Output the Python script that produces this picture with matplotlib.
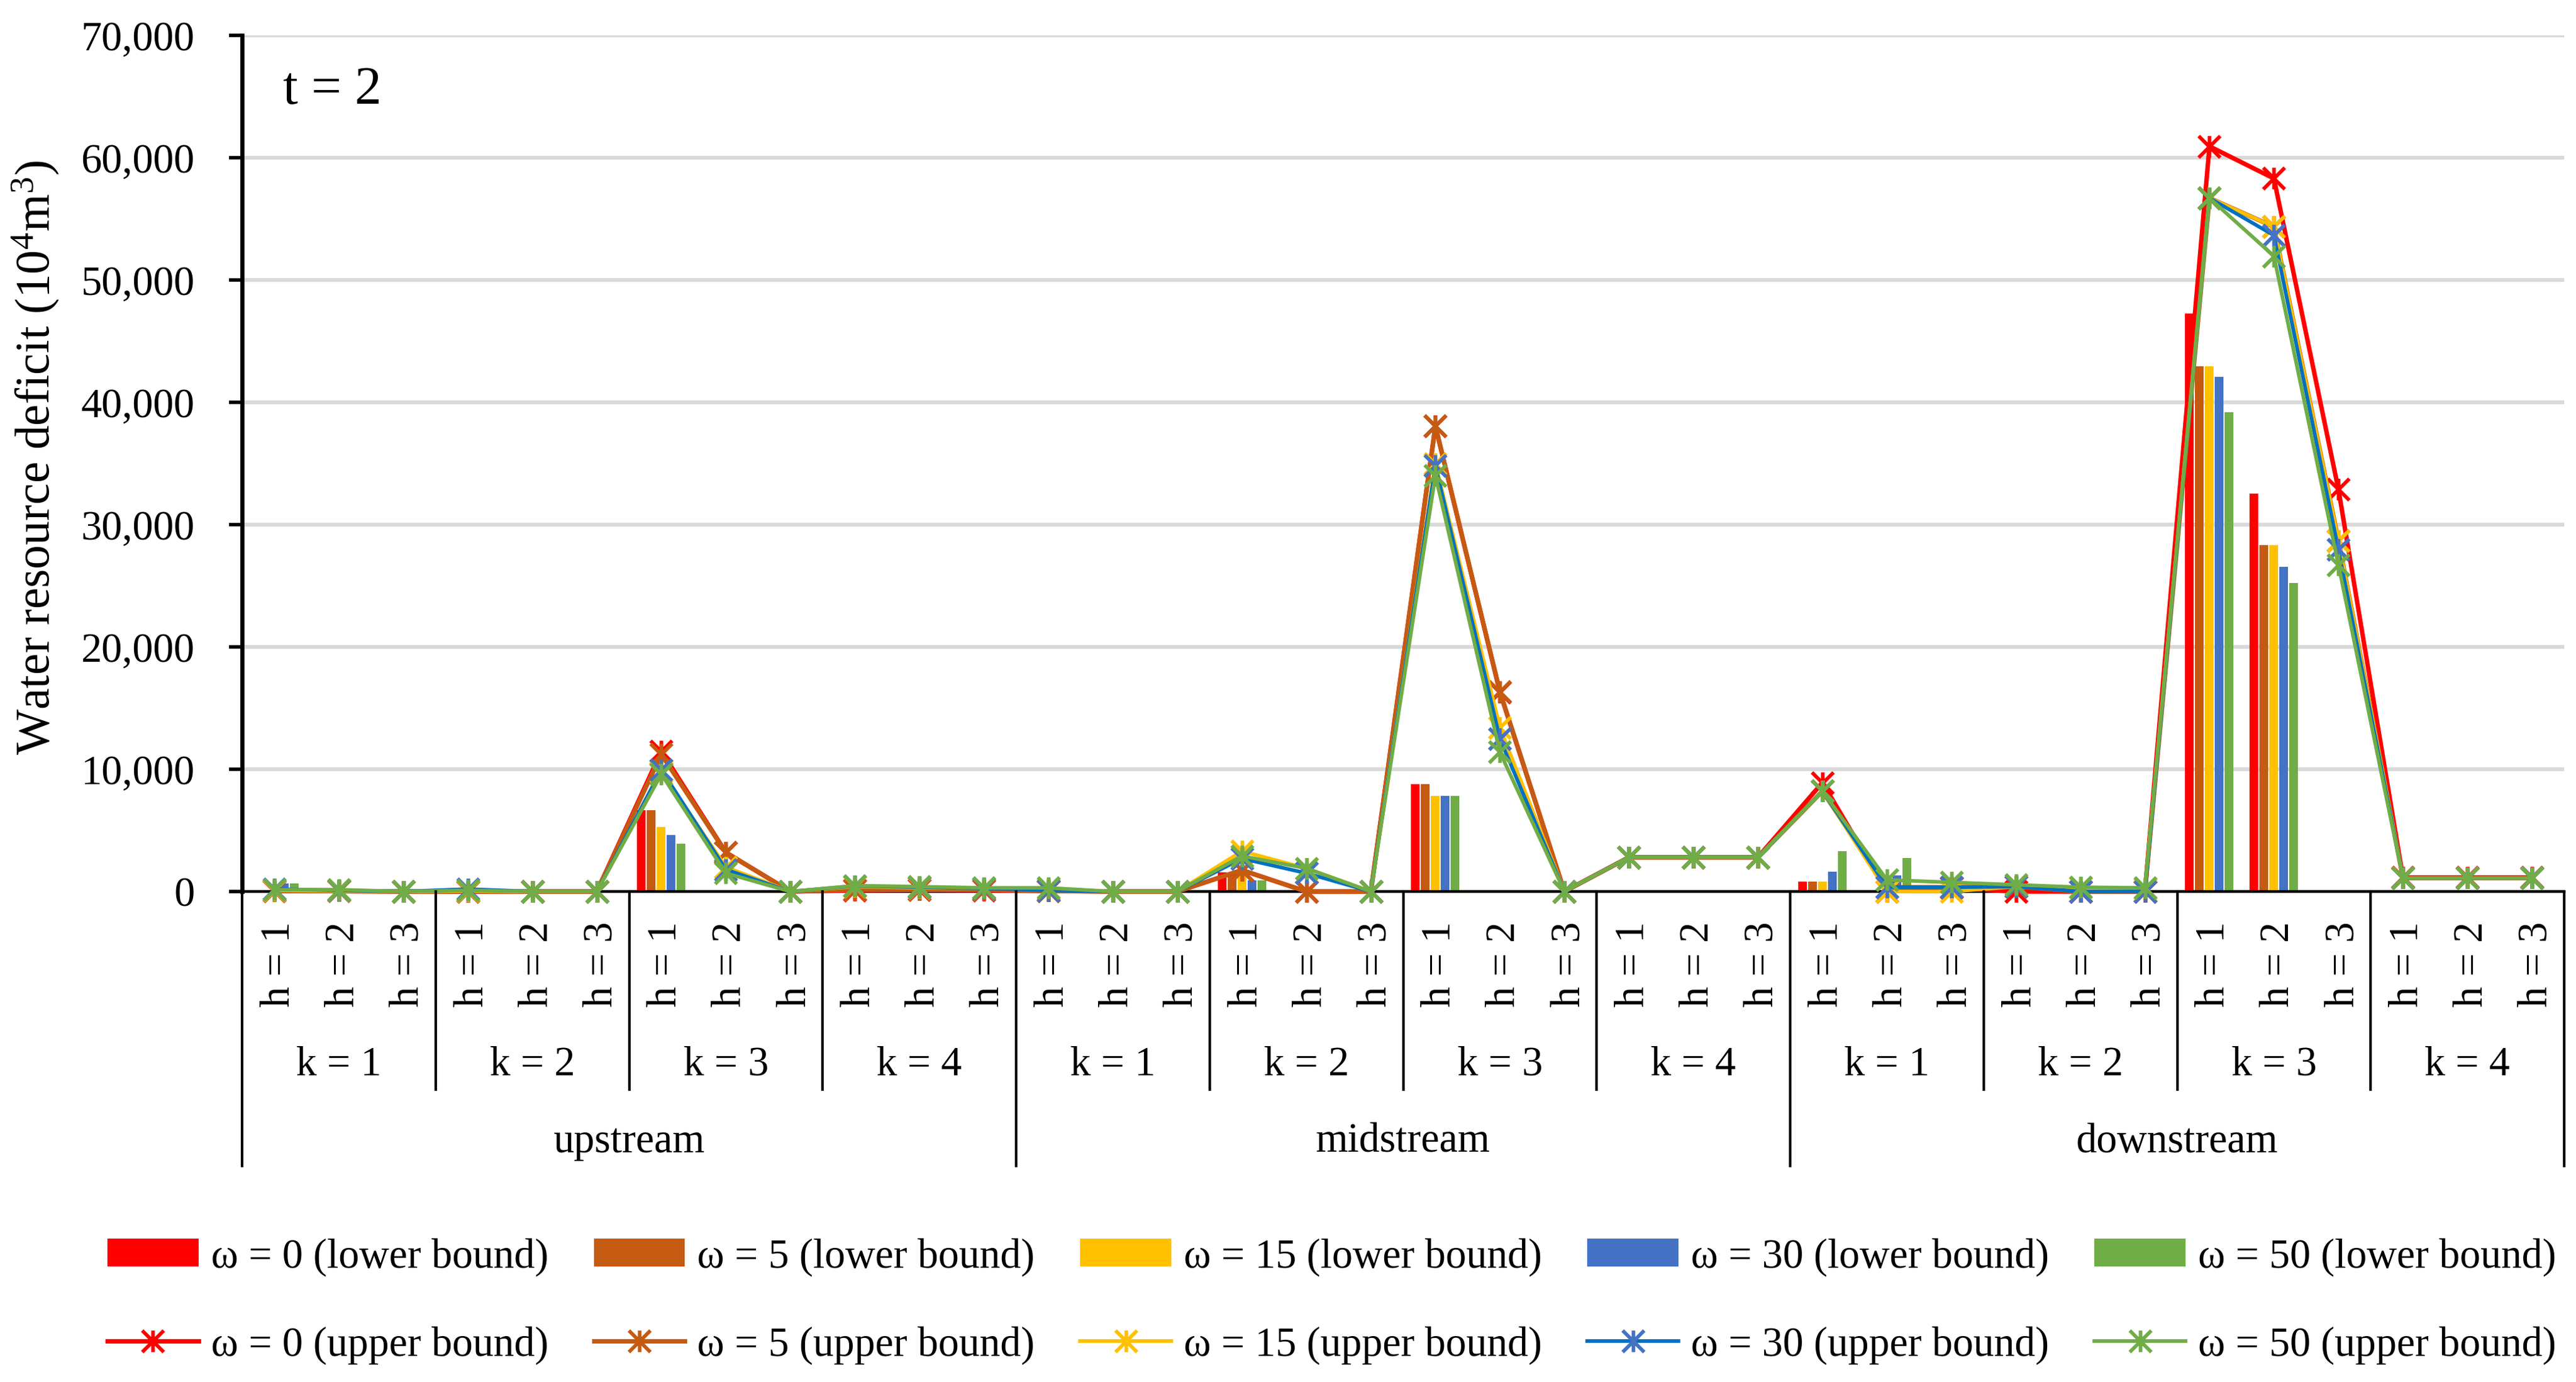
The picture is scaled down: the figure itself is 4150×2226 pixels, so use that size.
import matplotlib
matplotlib.use('Agg')
import matplotlib.pyplot as plt
from matplotlib.path import Path
from matplotlib.lines import Line2D
from matplotlib.ticker import FuncFormatter
import matplotlib.transforms as mtransforms

plt.rcParams['font.family'] = ['Liberation Serif', 'DejaVu Serif']
plt.rcParams['mathtext.fontset'] = 'custom'
plt.rcParams['mathtext.rm'] = 'Liberation Serif'
plt.rcParams['mathtext.it'] = 'Liberation Serif:italic'

# ---------------- data ----------------
regions = ['upstream', 'midstream', 'downstream']
k_labels = ['k = 1', 'k = 2', 'k = 3', 'k = 4']
h_labels = ['h = 1', 'h = 2', 'h = 3']
omegas = [0, 5, 15, 30, 50]

# order: for each region, k1h1,k1h2,k1h3,k2h1,...,k4h3
lower_w0 = [0, 0, 0, 0, 0, 0, 6650, 0, 0, 0, 0, 0,
            0, 0, 0, 1560, 0, 0, 8770, 0, 0, 0, 0, 0,
            800, 0, 0, 0, 0, 0, 47250, 32550, 0, 0, 0, 0]
lower_w5 = [0, 0, 0, 0, 0, 0, 6650, 0, 0, 0, 0, 0,
            0, 0, 0, 1500, 0, 0, 8770, 0, 0, 0, 0, 0,
            800, 0, 0, 0, 0, 0, 42950, 28350, 0, 0, 0, 0]
lower_w15 = [0, 0, 0, 0, 0, 0, 5280, 0, 0, 0, 0, 0,
             0, 0, 0, 1400, 0, 0, 7820, 0, 0, 0, 0, 0,
             800, 0, 0, 0, 0, 0, 42950, 28350, 0, 0, 0, 0]
lower_w30 = [640, 0, 0, 0, 0, 0, 4600, 0, 0, 0, 0, 0,
             0, 0, 0, 930, 0, 0, 7820, 0, 0, 0, 0, 0,
             1600, 1300, 0, 0, 0, 0, 42070, 26570, 0, 0, 0, 0]
lower_w50 = [640, 0, 0, 0, 0, 0, 3900, 0, 0, 0, 0, 0,
             0, 0, 0, 930, 0, 0, 7820, 0, 0, 0, 0, 0,
             3300, 2750, 0, 0, 0, 0, 39200, 25250, 0, 0, 0, 0]

upper_w0 = [50, 30, 0, 0, 0, 0, 11470, 3200, 0, 100, 130, 100,
            50, 0, 0, 1750, 0, 0, 38050, 16300, 0, 2800, 2800, 2800,
            8900, 0, 300, 0, 0, 0, 60930, 58300, 32880, 1150, 1150, 1150]
upper_w5 = [50, 30, 0, 0, 0, 0, 11220, 3180, 0, 150, 150, 150,
            50, 0, 0, 1750, 0, 0, 38050, 16350, 0, 2800, 2800, 2800,
            8200, 350, 350, 400, 0, 0, 56700, 54350, 28700, 1100, 1100, 1100]
upper_w15 = [100, 50, 0, 50, 0, 0, 9800, 2000, 0, 400, 300, 250,
             200, 0, 0, 3300, 1900, 0, 35000, 13400, 0, 2800, 2800, 2800,
             8200, 0, 0, 400, 300, 200, 56700, 54350, 28700, 1100, 1100, 1100]
upper_w30 = [200, 100, 0, 200, 0, 0, 9950, 1800, 0, 450, 350, 250,
             100, 0, 0, 2700, 1500, 0, 34800, 12500, 0, 2800, 2800, 2800,
             8200, 350, 350, 400, 0, 0, 56700, 53650, 27950, 1100, 1100, 1100]
upper_w50 = [150, 150, 0, 100, 0, 0, 9600, 1500, 0, 480, 400, 300,
             300, 0, 0, 2900, 1900, 0, 34000, 11400, 0, 2800, 2800, 2800,
             8200, 950, 750, 550, 350, 300, 56700, 51950, 26700, 1100, 1100, 1100]

lower_sets = [lower_w0, lower_w5, lower_w15, lower_w30, lower_w50]
upper_sets = [upper_w0, upper_w5, upper_w15, upper_w30, upper_w50]

bar_colors = ['#FF0000', '#C55A11', '#FFC000', '#4472C4', '#70AD47']
line_colors = ['#FF0000', '#C55A11', '#FFC000', '#0070C0', '#70AD47']
marker_colors = ['#FF0000', '#C55A11', '#FFC000', '#4472C4', '#70AD47']
line_widths = [2.6, 2.6, 2.1, 2.1, 2.1]

# ---------------- figure ----------------
W, H = 4150, 2226
fig = plt.figure(figsize=(W / 200, H / 200), dpi=200)
ax_left, ax_right, ax_top, ax_bot = 390, 4131, 57, 1436
ax = fig.add_axes([ax_left / W, 1 - ax_bot / H, (ax_right - ax_left) / W, (ax_bot - ax_top) / H])

n = len(lower_w0)
xs = list(range(n))

# star marker (x with vertical bar)
star = Path([(-1, -1), (1, 1), (-1, 1), (1, -1), (0, -1), (0, 1)],
            [Path.MOVETO, Path.LINETO, Path.MOVETO, Path.LINETO, Path.MOVETO, Path.LINETO])

bw = 0.135
pitch = 0.154
bar_handles = []
for j, (vals, c) in enumerate(zip(lower_sets, bar_colors)):
    b = ax.bar([x + (j - 2) * pitch for x in xs], vals, width=bw, color=c, zorder=2)
    bar_handles.append(b)

line_handles = []
for j, vals in enumerate(upper_sets):
    ln, = ax.plot(xs, vals, color=line_colors[j], lw=line_widths[j], marker=star,
                  markersize=12.5, markeredgewidth=2.1, markeredgecolor=marker_colors[j],
                  markerfacecolor='none', zorder=3 + j, clip_on=False)
    line_handles.append(ln)

ax.set_xlim(-0.5, n - 0.5)
ax.set_ylim(0, 70000)
ax.set_yticks(range(0, 70001, 10000))
ax.yaxis.set_major_formatter(FuncFormatter(lambda v, p: f'{int(v):,}'))
ax.set_xticks([])
ax.yaxis.grid(True, color='#D9D9D9', lw=2.2)
ax.set_axisbelow(True)
for s in ['top', 'right']:
    ax.spines[s].set_visible(False)
ax.spines['left'].set_linewidth(2.4)
ax.spines['bottom'].set_linewidth(1.6)
ax.spines['bottom'].set_zorder(2.5)
ax.tick_params(axis='y', length=7.5, width=2, pad=20, labelsize=24, direction='out')

# category axis
trans = mtransforms.blended_transform_factory(ax.transData, fig.transFigure)
y_axis = 1 - ax_bot / H
y_k_end = 1 - 1755 / H
y_r_end = 1 - 1878 / H
for i in range(13):
    x = -0.5 + 3 * i
    yend = y_r_end if i % 4 == 0 else y_k_end
    fig.add_artist(Line2D([x, x], [y_axis, yend], transform=trans, color='black', lw=1.5))

for i in range(n):
    fig.text(i + 0.23, 1 - 1553 / H, h_labels[i % 3], rotation=90, rotation_mode='anchor',
             ha='center', va='baseline', transform=trans, fontsize=24)
for g in range(12):
    fig.text(3 * g + 1, 1 - 1732 / H, k_labels[g % 4], ha='center', va='baseline',
             transform=trans, fontsize=24)
for r in range(3):
    fig.text(12 * r + 5.5, 1 - 1856 / H, regions[r], ha='center', va='baseline',
             transform=trans, fontsize=24)

fig.text(456 / W, 1 - 146 / H, 't = 2', fontsize=31, ha='left', va='center')
fig.text(58 / W, 1 - 737 / H, 'Water resource deficit (10$^{4}$m$^{3}$)', rotation=90,
         ha='center', va='center', fontsize=28)

# legend: row 1 bars, row 2 lines
handles, labels = [], []
for j, w in enumerate(omegas):
    handles.append(bar_handles[j])
    labels.append(f'ω = {w} (lower bound)')
    handles.append(line_handles[j])
    labels.append(f'ω = {w} (upper bound)')
fig.legend(handles, labels, ncol=5, loc='center', bbox_to_anchor=(0.517, 0.0586),
           frameon=False, fontsize=24, handlelength=2.2, handleheight=0.67,
           handletextpad=0.3, columnspacing=1.1, labelspacing=1.2)

fig.savefig('out.png', dpi=200)
